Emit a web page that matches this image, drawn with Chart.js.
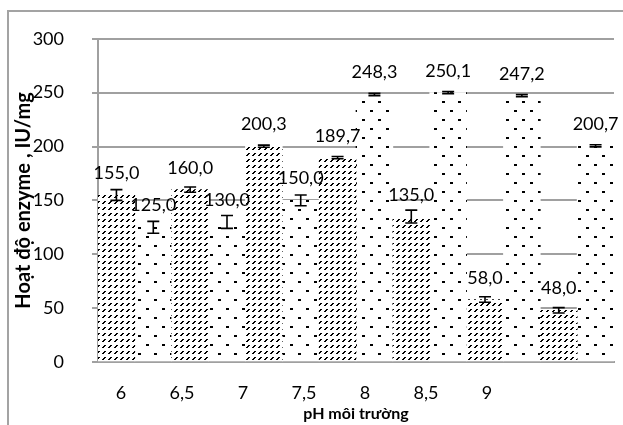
<!DOCTYPE html>
<html><head><meta charset="utf-8">
<script src="https://cdn.jsdelivr.net/npm/chart.js@4.4.1/dist/chart.umd.min.js"></script>
<style>
html,body{margin:0;padding:0;background:#fff;overflow:hidden}
#wrap{position:relative;width:623px;height:425px;overflow:hidden}
#frame{position:absolute;left:7px;top:10px;width:800px;height:600px;border-left:2px solid #a3a3a3;border-top:2px solid #a3a3a3}
#c{position:absolute;left:0;top:0}
</style></head>
<body><div id="wrap"><div id="frame"></div><canvas id="c" width="623" height="425"></canvas></div>
<script>
const categories = ['6','6,5','7','7,5','8','8,5','9'];
const seriesA = [155.0, 160.0, 200.3, 189.7, 135.0, 58.0, 48.0];
const seriesB = [125.0, 130.0, 150.0, 248.3, 250.1, 247.2, 200.7];
const errorsA = [5, 2.5, 1, 1, 6, 2.5, 2.5];
const errorsB = [5.5, 6, 5, 1, 1, 1, 1];
const yTicks = [0, 50, 100, 150, 200, 250, 300];
const pHTicks = [6, 6.5, 7, 7.5, 8, 8.5, 9];
const pHRange = [5.8115, 10.041];
const yTitle = 'Hoạt độ enzyme , IU/mg';
const xTitle = 'pH môi trường';

const canvas = document.getElementById('c');
const ctx = canvas.getContext('2d');

function makeHatch(){
  const t = document.createElement('canvas'); t.width = 6; t.height = 6;
  const g = t.getContext('2d');
  g.fillStyle = '#fff'; g.fillRect(0,0,6,6);
  g.fillStyle = '#000';
  [[0,5],[1,4],[2,3],[1,5],[2,4],[3,3]].forEach(p => g.fillRect(p[0],p[1],1,1));
  return ctx.createPattern(t,'repeat');
}
function makeDots(){
  const t = document.createElement('canvas'); t.width = 16; t.height = 18;
  const g = t.getContext('2d');
  g.fillStyle = '#fff'; g.fillRect(0,0,16,18);
  g.fillStyle = '#000';
  g.fillRect(2,2,3,2); g.fillRect(10,11,3,2);
  return ctx.createPattern(t,'repeat');
}

const errorPlugin = {
  id: 'errAndLabels',
  afterDatasetsDraw(chart){
    const c = chart.ctx, ys = chart.scales.y;
    const errs = [errorsA, errorsB];
    chart.data.datasets.forEach((ds, di) => {
      const meta = chart.getDatasetMeta(di);
      meta.data.forEach((bar, i) => {
        const v = ds.data[i], e = errs[di][i];
        const x = bar.x;
        const y1 = ys.getPixelForValue(v + e), y2 = ys.getPixelForValue(v - e);
        c.save();
        c.strokeStyle = '#000'; c.lineWidth = 1.6;
        c.beginPath();
        c.moveTo(x, y1); c.lineTo(x, y2);
        c.moveTo(x - 6, y1); c.lineTo(x + 6, y1);
        c.moveTo(x - 6, y2); c.lineTo(x + 6, y2);
        c.stroke();
        c.fillStyle = '#000';
        c.font = '18px Lato';
        c.textAlign = 'center'; c.textBaseline = 'alphabetic';
        c.fillText(v.toFixed(1).replace('.', ','), x, ys.getPixelForValue(v) - 16);
        c.restore();
      });
    });
  }
};

new Chart(ctx, {
  type: 'bar',
  data: {
    labels: categories,
    datasets: [
      { data: seriesA, backgroundColor: makeHatch(), borderWidth: 0, categoryPercentage: 1, barPercentage: 1, xAxisID: 'x' },
      { data: seriesB, backgroundColor: makeDots(), borderWidth: 0, categoryPercentage: 1, barPercentage: 1, xAxisID: 'x' }
    ]
  },
  options: {
    responsive: false,
    animation: false,
    devicePixelRatio: 1,
    layout: { padding: { top: 38, right: 9, left: 0, bottom: 0 } },
    plugins: { legend: { display: false }, tooltip: { enabled: false } },
    scales: {
      x: { display: false },
      xl: {
        type: 'linear', position: 'bottom', bounds: 'data', offset: false,
        min: pHRange[0], max: pHRange[1],
        afterDataLimits(s){ s.min = pHRange[0]; s.max = pHRange[1]; },
        afterFit(s){ s.height = 63; },
        afterBuildTicks(s){ s.ticks = pHTicks.map(v => ({ value: v })); },
        grid: { display: false, drawTicks: false, offset: false },
        border: { display: true, color: '#a0a0a0', width: 2 },
        ticks: { color: '#000', font: { family: 'Lato', size: 18 }, padding: 20, maxRotation: 0, autoSkip: false,
                 callback: v => String(v).replace('.', ',') },
        title: { display: true, text: xTitle, color: '#000', font: { family: 'Lato', size: 16, weight: 'bold' }, padding: { top: 0, bottom: 2 } }
      },
      y: {
        min: 0, max: 300,
        afterFit(s){ s.width = 98; },
        afterBuildTicks(s){ s.ticks = yTicks.map(v => ({ value: v })); },
        grid: { color: '#a0a0a0', lineWidth: 2, tickLength: 6, drawTicks: true },
        border: { display: true, color: '#a0a0a0', width: 2 },
        ticks: { color: '#000', font: { family: 'Lato', size: 18 }, padding: 28 },
        title: { display: true, text: yTitle, color: '#000', font: { family: 'Lato', size: 20, weight: 'bold' }, padding: { top: 12, bottom: 0 } }
      }
    }
  },
  plugins: [errorPlugin]
});
</script>
</body></html>
